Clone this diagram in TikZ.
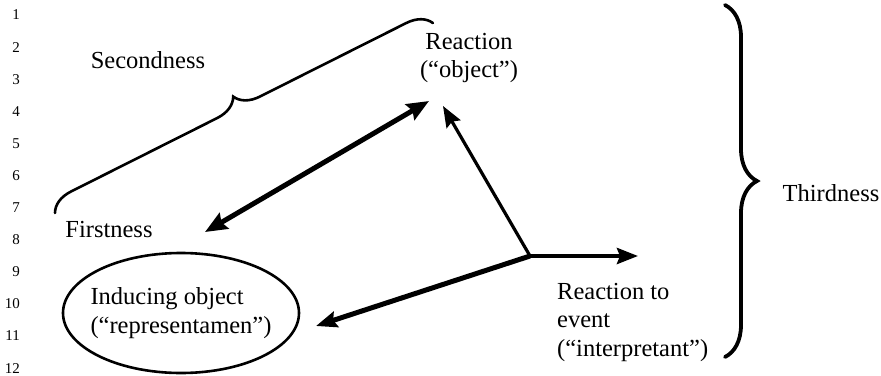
\documentclass[tikz,border=0pt]{standalone}
\usepackage{fontspec}
\setmainfont{Liberation Serif}
\usetikzlibrary{arrows.meta, shapes.geometric, decorations.pathreplacing}

\begin{document}
\begin{tikzpicture}[
        x=1pt, y=-1pt,
        lbl/.style={font=\fontsize{24.5}{28.5}\selectfont, inner sep=0pt},
        lnum/.style={font=\fontsize{15}{17}\selectfont, inner sep=0pt,
                     anchor=east},
        bracket/.style={decorate, decoration={brace, amplitude=#1},
                        line cap=round},
        bigarrow/.style={line width=#1,
                         -{Stealth[length=21pt, width=16pt, inset=3pt]}},
        dblarrow/.style={line width=#1,
                         {Stealth[length=22pt, width=18pt, inset=3pt]}-{Stealth[length=22pt, width=18pt, inset=3pt]}},
        >=Stealth
    ]
        \useasboundingbox (0,0) rectangle (881,375);

        % line numbers
        \foreach \n in {1,...,12}
            \node[lnum] (ln\n) at (20, {15+32.1*(\n-1)}) {\n};

        % labels
        \node[lbl] (second) at (148, 60) {Secondness};
        \node[lbl] (first) at (109, 230) {Firstness};
        \node[lbl, align=center] (obj) at (469, 58) {Reaction\\(“object”)};
        \node[lbl, align=left, anchor=west] (interp) at (557, 322)
            {Reaction to\\event\\(“interpretant”)};
        \node[lbl] (third) at (831, 193) {Thirdness};
        \node[lbl, ellipse, draw, line width=2.6pt, align=left,
              inner xsep=-12pt, inner ysep=14pt,
              minimum width=236pt, minimum height=120pt]
            (rep) at (181, 313) {Inducing object\\(“representamen”)};

        % braces
        \draw[bracket=24pt, line width=2.6pt] (55, 213) -- (433, 23);
        \draw[bracket=32pt, line width=3.8pt] (725, 5) -- (725, 357);

        % arrows
        \coordinate (hub) at (530, 256);
        \coordinate (fa) at (205, 232);
        \coordinate (oa) at (429, 101);
        \coordinate (ob) at (443, 106);
        \coordinate (ia) at (638, 256);
        \coordinate (ra) at (316, 326);

        \draw[dblarrow=5pt] (fa) -- (oa);
        \draw[bigarrow=3.2pt] (hub) -- (ob);
        \draw[bigarrow=4pt] (hub) -- (ia);
        \draw[bigarrow=5pt] (hub) -- (ra);
    \end{tikzpicture}
\end{document}
